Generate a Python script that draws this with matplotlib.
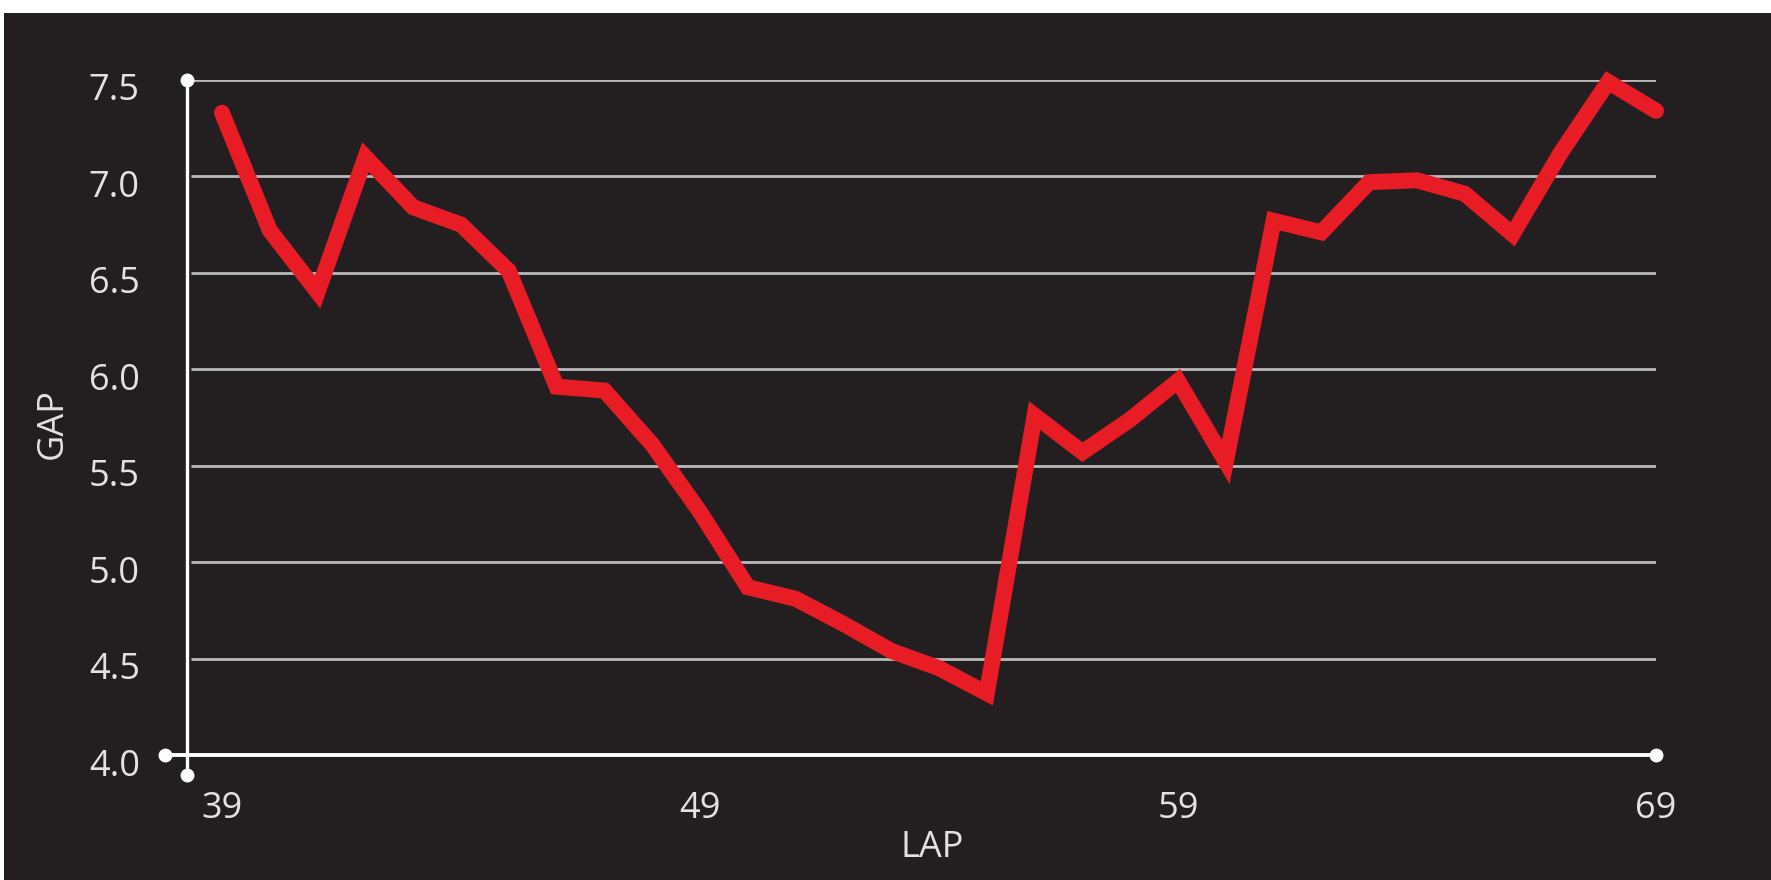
import numpy as np
import matplotlib.pyplot as plt
from matplotlib.transforms import ScaledTranslation

# gap per lap
laps = np.arange(39, 70)
gap = [7.33, 6.72, 6.40, 7.10, 6.84, 6.75, 6.51, 5.91, 5.89, 5.61,
       5.26, 4.87, 4.81, 4.68, 4.54, 4.45, 4.32, 5.76, 5.57, 5.74,
       5.94, 5.52, 6.77, 6.71, 6.97, 6.98, 6.91, 6.70, 7.12, 7.49, 7.34]
y_ticks = [4.0, 4.5, 5.0, 5.5, 6.0, 6.5, 7.0, 7.5]
x_ticks = [39, 49, 59, 69]

BG = '#231f20'
RED = '#e81c24'
TXT = '#e2e2e2'

plt.rcParams['font.family'] = ['Open Sans', 'DejaVu Sans']

W, H = 1771, 880
fig = plt.figure(figsize=(W / 100, H / 100), dpi=100)
fig.patch.set_facecolor('white')

# dark panel with a thin white frame on top/left
panel = fig.add_axes([4 / W, 0, 1 - 4 / W, (H - 13) / H])
panel.set_facecolor(BG)
panel.set_xticks([])
panel.set_yticks([])
for s in panel.spines.values():
    s.set_visible(False)

# plot area: x 187..1656 px, y 80..755 px
ax = fig.add_axes([187 / W, (H - 755) / H, (1656 - 187) / W, (755 - 80) / H])
ax.set_facecolor('none')
px_per_lap = (1656 - 222) / 30
ax.set_xlim(39 - 35 / px_per_lap, 69)
ax.set_ylim(4.0, 7.5)
for s in ax.spines.values():
    s.set_visible(False)

# gridlines
for v in y_ticks[1:]:
    ax.plot([ax.get_xlim()[0] + 0.08, 69], [v, v], color='#b9b9b9', lw=2.0,
            zorder=1, solid_capstyle='butt')

# axes lines with dot ends
x0 = ax.get_xlim()[0]
y_per_px = 3.5 / 675
x_per_px = 1 / px_per_lap
ax.plot([x0, x0], [4.0 - 20 * y_per_px, 7.5], color='white', lw=2.4,
        zorder=3, clip_on=False)
ax.plot([x0 - 22 * x_per_px, 69], [4.0, 4.0], color='white', lw=2.8,
        zorder=3, clip_on=False)
ax.plot([x0, x0, x0 - 22 * x_per_px, 69], [7.5, 4.0 - 20 * y_per_px, 4.0, 4.0],
        'o', color='white', ms=10, mec='none', zorder=4, clip_on=False)

# the gap line
ax.plot(laps, gap, color=RED, lw=11.5, solid_joinstyle='miter',
        solid_capstyle='round', zorder=5, clip_on=False)

ax.set_yticks(y_ticks)
ax.set_yticklabels([f'{v:.1f}' for v in y_ticks])
ax.set_xticks(x_ticks)
ax.set_xticklabels([str(v) for v in x_ticks])
ax.tick_params(axis='both', length=0, labelsize=26, labelcolor=TXT)
ax.tick_params(axis='y', pad=34)
ax.tick_params(axis='x', pad=26)
off = ScaledTranslation(0, -7 / 100, fig.dpi_scale_trans)
for lab in ax.get_yticklabels():
    lab.set_transform(lab.get_transform() + off)

ax.set_xlabel('LAP', fontsize=26, color=TXT)
ax.xaxis.set_label_coords((932 - 187) / (1656 - 187), (755 - 848) / 675)
ax.xaxis.label.set_va('center')
ax.set_ylabel('GAP', fontsize=26, color=TXT)
ax.yaxis.set_label_coords((53 - 187) / (1656 - 187), (755 - 424) / 675)
ax.yaxis.label.set_va('center')

fig.savefig('out.png', dpi=100, facecolor=fig.get_facecolor())
